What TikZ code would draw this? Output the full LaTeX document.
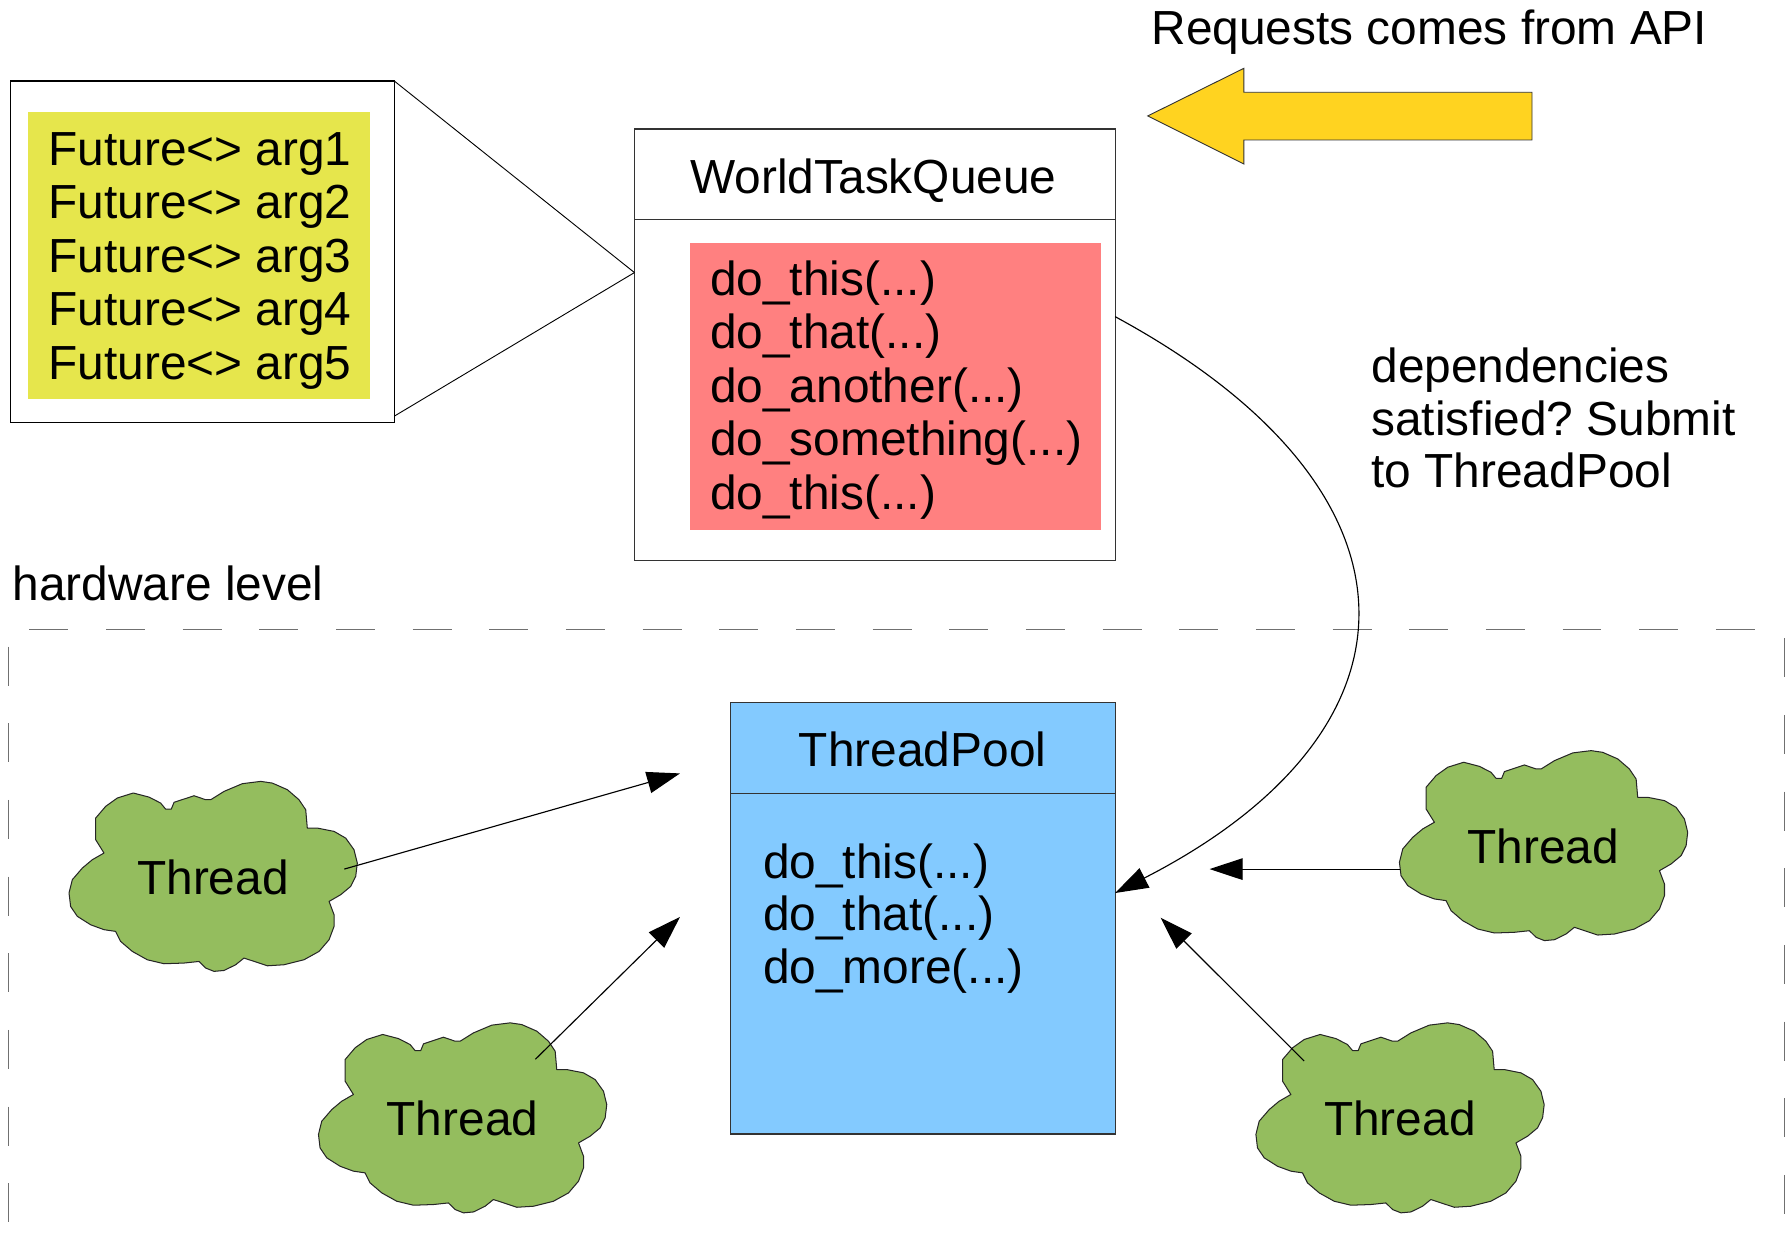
\documentclass[tikz,border=0pt]{standalone}
\usepackage{fontspec}
\setmainfont{Liberation Sans}
\usetikzlibrary{arrows.meta,calc}
\frenchspacing

\definecolor{argyellow}{HTML}{E6E64C}
\definecolor{queuered}{HTML}{FF8080}
\definecolor{poolblue}{HTML}{83CAFF}
\definecolor{threadgreen}{HTML}{94BD5E}
\definecolor{apiyellow}{HTML}{FFD320}
\definecolor{dashgray}{HTML}{707070}

% the elided parameter list of a call
\newcommand\argdots{(...)}

% outline of a thread cloud, centred on its label
\newcommand\threadcloudpath{%
(-95.7,-21.1) -- (-103.0,-32.8) -- (-103.0,-51.8) -- (-94.2,-62.1) -- (-84.0,-69.4) --
(-70.0,-73.8) -- (-56.2,-70.2) -- (-46.0,-65.0) -- (-41.6,-59.7) -- (-36.6,-59.7) --
(-34.2,-65.6) -- (-16.7,-71.4) -- (-6.4,-67.9) -- (-2.0,-67.9) -- (9.7,-75.2) --
(25.8,-82.0) -- (41.9,-84.0) -- (52.1,-82.5) -- (65.3,-76.7) -- (75.5,-67.9) --
(81.4,-59.1) -- (82.8,-43.0) -- (91.6,-43.0) -- (106.3,-40.1) -- (116.5,-34.2) --
(123.8,-24.0) -- (126.7,-12.3) -- (125.3,-0.6) -- (120.9,8.2) -- (112.1,15.5) --
(101.9,21.4) -- (106.3,33.1) -- (106.3,43.3) -- (101.9,55.0) -- (93.1,65.3) --
(79.9,72.6) -- (62.3,77.0) -- (47.7,77.9) -- (27.2,71.1) -- (19.9,77.0) --
(9.7,82.0) -- (0.9,82.8) -- (-6.4,79.9) -- (-12.3,74.1) -- (-25.5,75.5) --
(-43.0,76.1) -- (-57.7,72.6) -- (-70.8,65.3) -- (-81.1,56.5) -- (-85.5,47.7) --
(-95.7,46.2) -- (-107.4,41.9) -- (-119.1,34.5) -- (-125.0,25.8) -- (-126.4,14.0) --
(-123.5,2.3) -- (-114.7,-7.9) -- (-106.0,-15.2) -- cycle}

\begin{document}
\begin{tikzpicture}[x=1pt, y=-1pt,
  big/.style={font=\fontsize{42}{47}\selectfont, inner sep=0pt, outer sep=0pt},
  boxline/.style={draw=black!80, line width=1pt, inner sep=0pt, outer sep=0pt},
  fillonly/.style={inner sep=0pt, outer sep=0pt, draw=none},
  thin/.style={draw=black, line width=0.8pt},
  arr/.style={-{Triangle[length=29pt,width=19pt]}, line width=1pt},
  cloudsty/.style={draw=black!85, line width=0.9pt, fill=threadgreen, line join=round},
  hwdash/.style={draw=dashgray, line width=1.3pt, dash pattern=on 34.2pt off 33.1pt}
]
\useasboundingbox (0,0) rectangle (1568,1099);

% ---- argument panel ----
\node[boxline, draw=black, fill=white, minimum width=337, minimum height=299.7] (args) at (177.7,221) {};
\node[fillonly, fill=argyellow, minimum width=299.6, minimum height=252.6] (argfill) at (174.6,224.3) {};
\foreach \i in {1,2,3,4,5}
  \node[big, anchor=base west] (arg\i) at (42.5,{144.9+47*(\i-1)}) {Future<> arg\i};

% ---- world task queue ----
\node[boxline, fill=white, minimum width=422, minimum height=379] (wq) at (768,302.8) {};
\draw[boxline] ($(wq.north west)+(0,79.5)$) -- ($(wq.north east)+(0,79.5)$);
\node[big, anchor=base] (wqtitle) at (766.8,169.7) {WorldTaskQueue};
\node[fillonly, fill=queuered, minimum width=360.9, minimum height=252.3] (ops) at (786.25,339.15) {};
\foreach \i/\t in {1/this, 2/that, 3/another, 4/something, 5/this}
  \node[big, anchor=base west] (op\i) at (623.4,{259+47.1*(\i-1)}) {do\_\t\argdots};

% callout from the panel to the queue
\coordinate (wqpin) at ($(wq.north west)+(0,126)$);
\draw[thin] (args.north east) -- (wqpin);
\draw[thin] ($(args.south east)+(0,-5.5)$) -- (wqpin);

% ---- incoming requests ----
\node[big, anchor=base west] (reqlabel) at (1011,39.5) {Requests comes from API};
\draw[fill=apiyellow, draw=black!80, line width=0.8pt, line join=miter]
  (1007.6,101.8) -- (1092,60) -- (1092,81) -- (1345,81) -- (1345,122.9)
  -- (1092,122.9) -- (1092,144) -- cycle;

% ---- submission note ----
\foreach \i/\t in {1/dependencies, 2/satisfied? Submit, 3/to ThreadPool}
  \node[big, anchor=base west] (dep\i) at (1204,{336+46*(\i-1)}) {\t};

% ---- hardware level region ----
\node[big, anchor=base west] (hwlabel) at (11,527) {hardware level};
\draw[hwdash] (25.8,552.5) -- (1568,552.5);
\draw[hwdash] (7.3,567.7) -- (7.3,1099);
\draw[hwdash] (1566.8,560.4) -- (1566.8,1099);

% ---- thread pool ----
\node[boxline, fill=poolblue, minimum width=337.5, minimum height=378.6] (tp) at (810.25,806.3) {};
\draw[boxline] ($(tp.north west)+(0,79.5)$) -- ($(tp.north east)+(0,79.5)$);
\node[big, anchor=base] (tptitle) at (810,673) {ThreadPool};
\foreach \i/\t in {1/this, 2/that, 3/more}
  \node[big, anchor=base west] (job\i) at (670,{771+46.2*(\i-1)}) {do\_\t\argdots};

% ---- threads ----
\foreach \n/\cx/\cy in {1/187/770, 2/406/982, 3/1355/743, 4/1229/982}{
  \draw[cloudsty, shift={(\cx,\cy)}] \threadcloudpath;
  \node[big] (thread\n) at (\cx,\cy) {Thread};
}

% arrow ends next to the pool
\coordinate (qout) at ($(wq.north east)+(0,164.7)$);
\coordinate (tpin) at ($(tp.north east)+(0,167)$);
\coordinate (tip1) at ($(tp.north west)+(-44.5,62)$);
\coordinate (tip2) at ($(tp.north west)+(-44.5,188)$);
\coordinate (tip3) at ($(tp.north east)+(83,146)$);
\coordinate (tip4) at ($(tp.north east)+(40,188.7)$);

% ---- connectors ----
\draw[arr] (qout) .. controls (1260,430) and (1260,640) .. (tpin);
\draw[arr] ($(thread1)+(115.3,-7)$) -- (tip1);
\draw[arr] ($(thread2)+(64,-52)$) -- (tip2);
\draw[arr] ($(thread3)+(-126,20)$) -- (tip3);
\draw[arr] ($(thread4)+(-84,-50.5)$) -- (tip4);
\end{tikzpicture}
\end{document}
